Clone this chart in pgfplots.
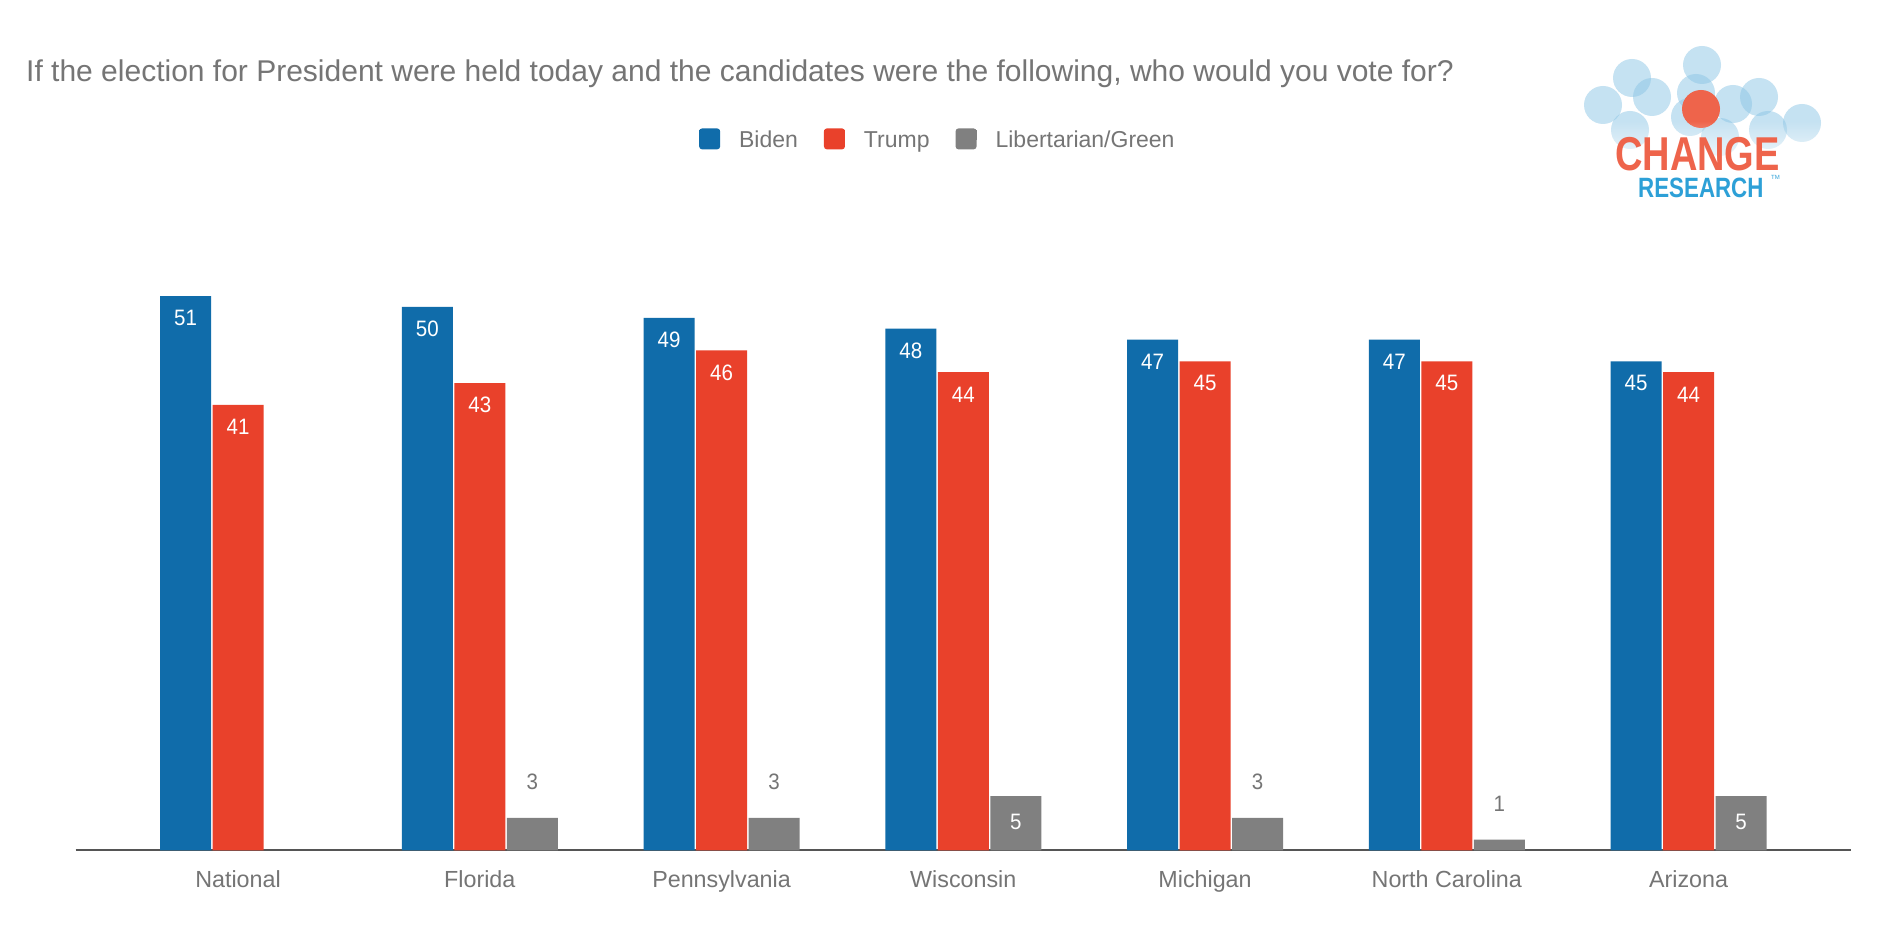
\documentclass[border=0pt]{standalone}
\usepackage{pgfplots}
\pgfplotsset{compat=1.18}
\usepackage{fontspec}
\setmainfont{Liberation Sans}
\newfontfamily\narrowfont{Liberation Sans}[FakeStretch=0.92]
\newfontfamily\logofont{Liberation Sans Bold}[FakeStretch=0.8]
\usetikzlibrary{fadings}
\definecolor{bidenblue}{RGB}{16,108,170}
\definecolor{trumpred}{RGB}{233,65,43}
\definecolor{libgray}{RGB}{128,128,128}
\definecolor{txtgray}{RGB}{117,117,117}
\definecolor{axgray}{RGB}{85,85,85}
\definecolor{logoblue}{RGB}{140,198,230}
\definecolor{logored}{RGB}{238,100,75}
\definecolor{logotext}{RGB}{45,160,215}
\begin{document}
\begin{tikzpicture}
\useasboundingbox (0,0) rectangle (1881pt,933pt);
\fill[white] (0,0) rectangle (1881pt,933pt);
\node[anchor=base west, inner sep=0pt, text=txtgray, font=\fontsize{30}{35}\selectfont] at (26pt,851pt)
  {If the election for President were held today and the candidates were the following, who would you vote for?};
% logo
\begin{scope}
\foreach \cx/\cy in {1603/828,1632/855,1652/836,1702/868,1696/840,1733/829,1759/836,1802/810,1630/803,1768/803,1690/816,1720/796}
  {\fill[logoblue, opacity=0.5] (\cx pt,\cy pt) circle (19pt);}
\fill[logored] (1701pt,824pt) circle (19pt);
\fill[white, path fading=north] (1580pt,760pt) rectangle (1840pt,812pt);
\node[anchor=base west, inner sep=0pt, text=logored, font=\logofont\fontsize{47.5}{50}\selectfont] at (1615pt,762pt) {CHANGE};
\node[anchor=base west, inner sep=0pt, text=logotext, font=\logofont\fontsize{27.9}{30}\selectfont] at (1638pt,735pt) {RESEARCH};
\node[anchor=base west, inner sep=0pt, text=logotext, font=\fontsize{6}{7}\selectfont] at (1771pt,753pt) {TM};
\end{scope}
\begin{axis}[
  at={(75.6pt,82.5pt)}, anchor=south west, scale only axis,
  width=1775.4pt, height=652.2pt,
  xmin=-0.672, xmax=6.672, ymin=0, ymax=60,
  axis y line=none, axis x line*=bottom, ytick=\empty,
  x axis line style={-, draw=axgray, line width=2pt},
  xtick={0,...,6},
  xticklabels={National,Florida,Pennsylvania,Wisconsin,Michigan,North Carolina,Arizona},
  major tick length=0pt,
  xticklabel style={anchor=base, yshift=-37pt, text=txtgray, font=\fontsize{23.3}{28}\selectfont},
  ybar, bar width=0.211,
  /pgf/number format/assume math mode=true,
  clip=false,
  legend columns=-1,
  legend style={at={(0.3511,1.0901)}, anchor=west, draw=none, fill=none, inner sep=0pt,
    column sep=19pt, /tikz/every even column/.append style={column sep=26pt},
    nodes={inner sep=0pt, text=txtgray, font=\fontsize{23}{28}\selectfont}},
]
\addplot[draw=none, fill=bidenblue, bar shift=-0.217,
  nodes near coords, every node near coord/.append style={inner sep=0pt, text=white, yshift=-30pt, font=\narrowfont\fontsize{22.3}{27}\selectfont},
  legend image code/.code={\path (0pt,0pt) rectangle (21pt,10pt);\fill[overlay, bidenblue, rounded corners=3pt] (0pt,-9.4pt) rectangle (21pt,11.6pt);}]
  coordinates {(0,51) (1,50) (2,49) (3,48) (4,47) (5,47) (6,45)};
\addlegendentry{Biden}
\addplot[draw=none, fill=trumpred, bar shift=0,
  nodes near coords, every node near coord/.append style={inner sep=0pt, text=white, yshift=-30pt, font=\narrowfont\fontsize{22.3}{27}\selectfont},
  legend image code/.code={\path (0pt,0pt) rectangle (21pt,10pt);\fill[overlay, trumpred, rounded corners=3pt] (0pt,-9.4pt) rectangle (21pt,11.6pt);}]
  coordinates {(0,41) (1,43) (2,46) (3,44) (4,45) (5,45) (6,44)};
\addlegendentry{Trump}
\addplot[draw=none, fill=libgray, bar shift=0.217,
  nodes near coords, every node near coord/.append style={inner sep=0pt, text=txtgray, yshift=28pt, font=\narrowfont\fontsize{22.3}{27}\selectfont},
  legend image code/.code={\path (0pt,0pt) rectangle (21pt,10pt);\fill[overlay, libgray, rounded corners=3pt] (0pt,-9.4pt) rectangle (21pt,11.6pt);}]
  coordinates {(1,3) (2,3) (4,3) (5,1)};
\addlegendentry{Libertarian/Green}
\addplot[draw=none, fill=libgray, bar shift=0.217, forget plot,
  nodes near coords, every node near coord/.append style={inner sep=0pt, text=white, yshift=-34pt, font=\narrowfont\fontsize{22.3}{27}\selectfont}]
  coordinates {(3,5) (6,5)};
\end{axis}
\end{tikzpicture}
\end{document}
